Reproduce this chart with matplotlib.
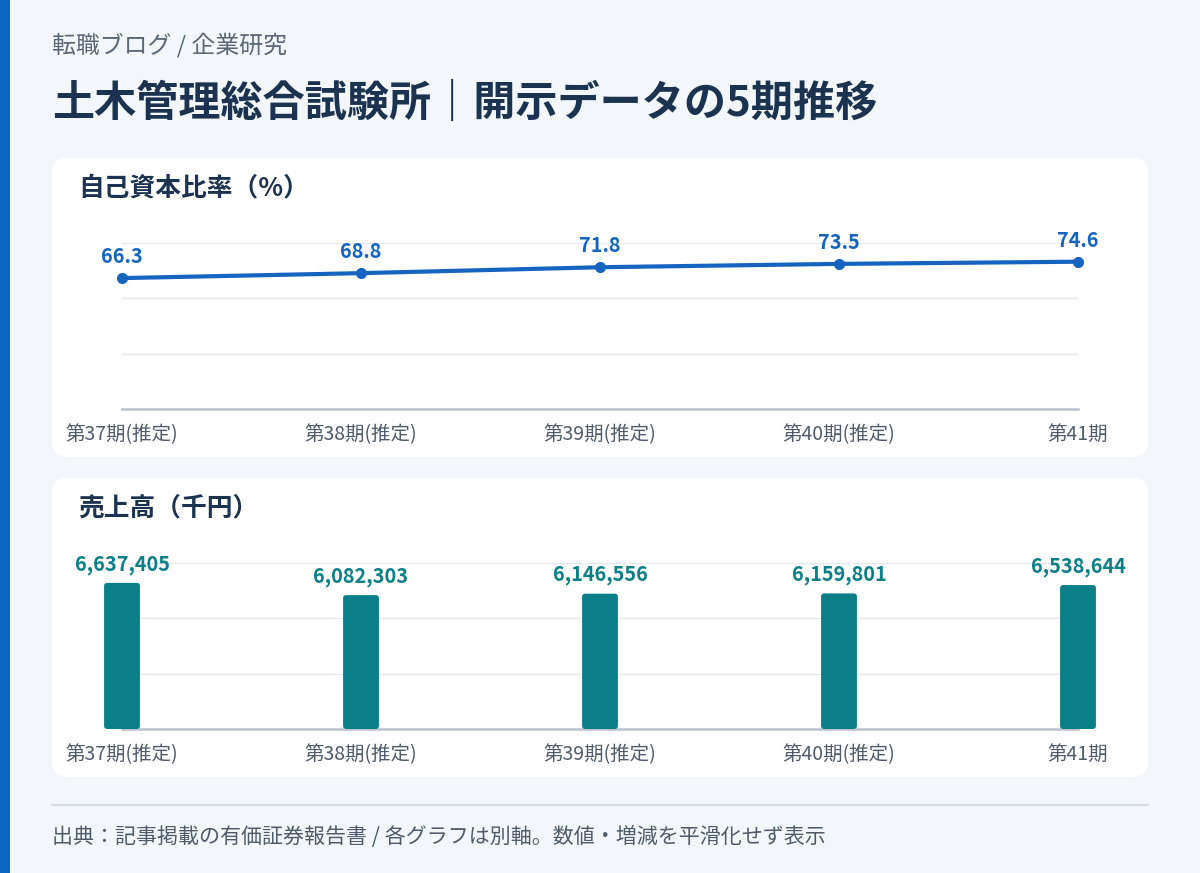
import numpy as np
import matplotlib.pyplot as plt
from matplotlib.patches import FancyBboxPatch, Rectangle

plt.rcParams['font.family'] = ['Noto Sans CJK JP', 'DejaVu Sans']

periods = ['第37期(推定)', '第38期(推定)', '第39期(推定)', '第40期(推定)', '第41期']
equity_ratio = [66.3, 68.8, 71.8, 73.5, 74.6]
sales = [6637405, 6082303, 6146556, 6159801, 6538644]

W, H = 1200, 873
BG = '#f3f7fb'
NAVY = '#1b3250'
GRAY = '#4f5b6b'
BLUE = '#1565c0'
TEAL = '#0b7f88'
GRID = '#e3e8ef'
BASE = '#b9c2cd'


def rect(x0, y0, x1, y1):
    # pixel box (top-left origin) -> figure fraction
    return [x0 / W, 1 - y1 / H, (x1 - x0) / W, (y1 - y0) / H]


fig = plt.figure(figsize=(12, 8.73), dpi=100, facecolor=BG)

bg = fig.add_axes([0, 0, 1, 1], zorder=0)
bg.set_xlim(0, W)
bg.set_ylim(H, 0)
bg.axis('off')
bg.add_patch(Rectangle((0, 0), 10, H, color='#0b66c3', lw=0))
for y0, y1 in [(158, 457), (478, 777)]:
    bg.add_patch(FancyBboxPatch((52, y0), 1096, y1 - y0,
                                boxstyle='round,pad=0,rounding_size=16',
                                fc='white', ec='none'))
bg.plot([52, 1148], [805, 805], color='#d6dde6', lw=1.5)

bg.text(52, 45, '転職ブログ / 企業研究', fontsize=17.2, color='#5b6778', va='center')
bg.text(52, 104, '土木管理総合試験所｜開示データの5期推移', fontsize=30.3,
        fontweight='bold', color=NAVY, va='center')
bg.text(78, 188, '自己資本比率（%）', fontsize=18.5, fontweight='bold', color=NAVY, va='center')
bg.text(78, 508, '売上高（千円）', fontsize=18.5, fontweight='bold', color=NAVY, va='center')
bg.text(52, 837, '出典：記事掲載の有価証券報告書 / 各グラフは別軸。数値・増減を平滑化せず表示',
        fontsize=15.1, color=GRAY, va='center')


def style_axis(ax, top):
    ax.set_facecolor('none')
    ax.set_xlim(0, len(periods) - 1)
    ax.set_ylim(0, top)
    ax.set_yticks(np.linspace(0, top, 4))
    ax.set_yticklabels([])
    ax.grid(axis='y', color=GRID, lw=1)
    ax.set_axisbelow(True)
    for s in ['top', 'right', 'left']:
        ax.spines[s].set_visible(False)
    ax.spines['bottom'].set_color(BASE)
    ax.spines['bottom'].set_linewidth(1.8)
    ax.set_xticks(range(len(periods)))
    ax.set_xticklabels(periods, fontsize=14, color=GRAY)
    ax.tick_params(axis='both', length=0, pad=11)


x = np.arange(len(periods))

# 自己資本比率
ax1 = fig.add_axes(rect(122, 243, 1078, 409), zorder=2)
style_axis(ax1, max(equity_ratio) * 1.127)
ax1.plot(x, equity_ratio, color=BLUE, lw=3, marker='o', ms=7, clip_on=False, zorder=3)
for xi, v in zip(x, equity_ratio):
    ax1.annotate(f'{v:.1f}', (xi, v), xytext=(0, 8), textcoords='offset points',
                 ha='center', va='bottom', fontsize=14.3, fontweight='bold', color=BLUE)

# 売上高
ax2 = fig.add_axes(rect(122, 563, 1078, 729), zorder=2)
top2 = max(sales) * 1.136
style_axis(ax2, top2)
bars = ax2.bar(x, sales, width=0.15, color=TEAL, zorder=3)
# swap the square bars for slightly rounded ones
x_per_px = (len(periods) - 1) / 956
y_per_px = top2 / 166
for b in bars:
    b.set_visible(False)
    ax2.add_patch(FancyBboxPatch((b.get_x(), 0), b.get_width(), b.get_height(),
                                 boxstyle=f'round,pad=0,rounding_size={3 * x_per_px}',
                                 mutation_aspect=y_per_px / x_per_px,
                                 fc=TEAL, ec='none', zorder=3, clip_on=False))
for xi, v in zip(x, sales):
    ax2.annotate(f'{v:,}', (xi, v), xytext=(0, 6), textcoords='offset points',
                 ha='center', va='bottom', fontsize=14.3, fontweight='bold', color=TEAL)

fig.savefig('out.png', dpi=100, facecolor=BG)
